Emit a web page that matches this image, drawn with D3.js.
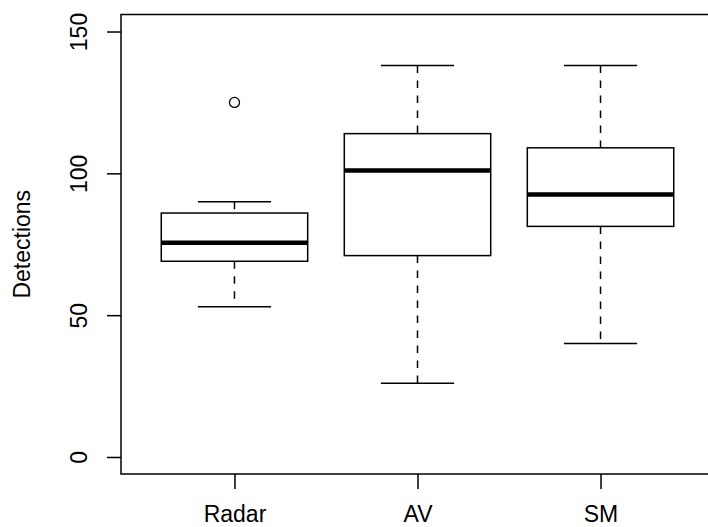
<!DOCTYPE html>
<html>
<head>
<meta charset="utf-8">
<script src="https://cdn.jsdelivr.net/npm/d3@7"></script>
<style>
  body { margin: 0; background: #fff; }
  svg { display: block; font-family: "Liberation Sans", Arial, Helvetica, sans-serif; }
</style>
</head>
<body>
<svg id="chart" width="708" height="527"></svg>
<script>
// box stats
var categories = ["Radar", "AV", "SM"];
var whiskerLo = [53, 26, 40];
var q1 = [69, 71, 81.3];
var median = [75.5, 101, 92.5];
var q3 = [86, 114, 109];
var whiskerHi = [90, 138, 138];
var outliers = [[125], [], []];
var yTicks = [0, 50, 100, 150];

var svg = d3.select("#chart");
var fontSize = 23;

// R style: xlim 0.5..3.5, ylim 0..150, each extended 4%
var xScale = d3.scaleLinear().domain([0.38, 3.62]).range([121, 714]);
var yScale = d3.scaleLinear().domain([-6, 156]).range([474, 14.5]);

var boxHalf = xScale(1.4) - xScale(1);
var capHalf = boxHalf / 2;

var data = categories.map(function(c, i) {
  return {name: c, pos: i + 1, lo: whiskerLo[i], q1: q1[i], med: median[i],
          q3: q3[i], hi: whiskerHi[i], out: outliers[i]};
});

var g = svg.append("g");

var boxes = g.selectAll(".box").data(data).enter().append("g").attr("class", "box");

// whiskers (dashed)
boxes.append("line")
  .attr("x1", function(d){ return xScale(d.pos); })
  .attr("x2", function(d){ return xScale(d.pos); })
  .attr("y1", function(d){ return yScale(d.hi); })
  .attr("y2", function(d){ return yScale(d.q3); })
  .attr("stroke", "#000").attr("stroke-width", 1.5).attr("stroke-dasharray", "7.5,7.5");
boxes.append("line")
  .attr("x1", function(d){ return xScale(d.pos); })
  .attr("x2", function(d){ return xScale(d.pos); })
  .attr("y1", function(d){ return yScale(d.q1); })
  .attr("y2", function(d){ return yScale(d.lo); })
  .attr("stroke", "#000").attr("stroke-width", 1.5).attr("stroke-dasharray", "7.5,7.5");

// staples
["hi", "lo"].forEach(function(k){
  boxes.append("line")
    .attr("x1", function(d){ return xScale(d.pos) - capHalf; })
    .attr("x2", function(d){ return xScale(d.pos) + capHalf; })
    .attr("y1", function(d){ return yScale(d[k]); })
    .attr("y2", function(d){ return yScale(d[k]); })
    .attr("stroke", "#000").attr("stroke-width", 1.5);
});

// the box itself
boxes.append("rect")
  .attr("x", function(d){ return xScale(d.pos) - boxHalf; })
  .attr("width", boxHalf * 2)
  .attr("y", function(d){ return yScale(d.q3); })
  .attr("height", function(d){ return yScale(d.q1) - yScale(d.q3); })
  .attr("fill", "none").attr("stroke", "#000").attr("stroke-width", 1.5);

// median
boxes.append("line")
  .attr("x1", function(d){ return xScale(d.pos) - boxHalf; })
  .attr("x2", function(d){ return xScale(d.pos) + boxHalf; })
  .attr("y1", function(d){ return yScale(d.med); })
  .attr("y2", function(d){ return yScale(d.med); })
  .attr("stroke", "#000").attr("stroke-width", 4.5);

// outliers
boxes.selectAll(".out")
  .data(function(d){ return d.out.map(function(v){ return {pos: d.pos, v: v}; }); })
  .enter().append("circle")
  .attr("class", "out")
  .attr("cx", function(d){ return xScale(d.pos); })
  .attr("cy", function(d){ return yScale(d.v); })
  .attr("r", 5)
  .attr("fill", "none").attr("stroke", "#000").attr("stroke-width", 1.3);

// plot frame
g.append("rect")
  .attr("x", xScale.range()[0]).attr("y", yScale.range()[1])
  .attr("width", xScale.range()[1] - xScale.range()[0])
  .attr("height", yScale.range()[0] - yScale.range()[1])
  .attr("fill", "none").attr("stroke", "#000").attr("stroke-width", 1.5);

// y axis
var yAxis = d3.axisLeft(yScale).tickValues(yTicks).tickSize(14).tickPadding(0);
var yg = svg.append("g").attr("transform", "translate(121,0)").call(yAxis);
yg.select(".domain").remove();
yg.selectAll(".tick line").attr("stroke", "#000").attr("stroke-width", 1.5);
yg.selectAll(".tick text")
  .attr("x", 0).attr("dy", null)
  .attr("transform", "translate(-34,0) rotate(-90)")
  .attr("text-anchor", "middle")
  .style("font-size", fontSize + "px")
  .style("font-family", "Liberation Sans, Arial, sans-serif")
  .attr("fill", "#000");

// x axis
var xAxis = d3.axisBottom(xScale).tickValues([1, 2, 3])
  .tickFormat(function(d){ return categories[d - 1]; }).tickSize(15).tickPadding(0);
var xg = svg.append("g").attr("transform", "translate(0,474)").call(xAxis);
xg.select(".domain").remove();
xg.selectAll(".tick line").attr("stroke", "#000").attr("stroke-width", 1.5);
xg.selectAll(".tick text")
  .attr("y", 48).attr("dy", null)
  .style("font-size", fontSize + "px")
  .style("font-family", "Liberation Sans, Arial, sans-serif")
  .attr("fill", "#000");

// y label
svg.append("text")
  .attr("transform", "translate(30," + ((yScale.range()[0] + yScale.range()[1]) / 2) + ") rotate(-90)")
  .attr("text-anchor", "middle")
  .style("font-size", fontSize + "px")
  .text("Detections");
</script>
</body>
</html>
